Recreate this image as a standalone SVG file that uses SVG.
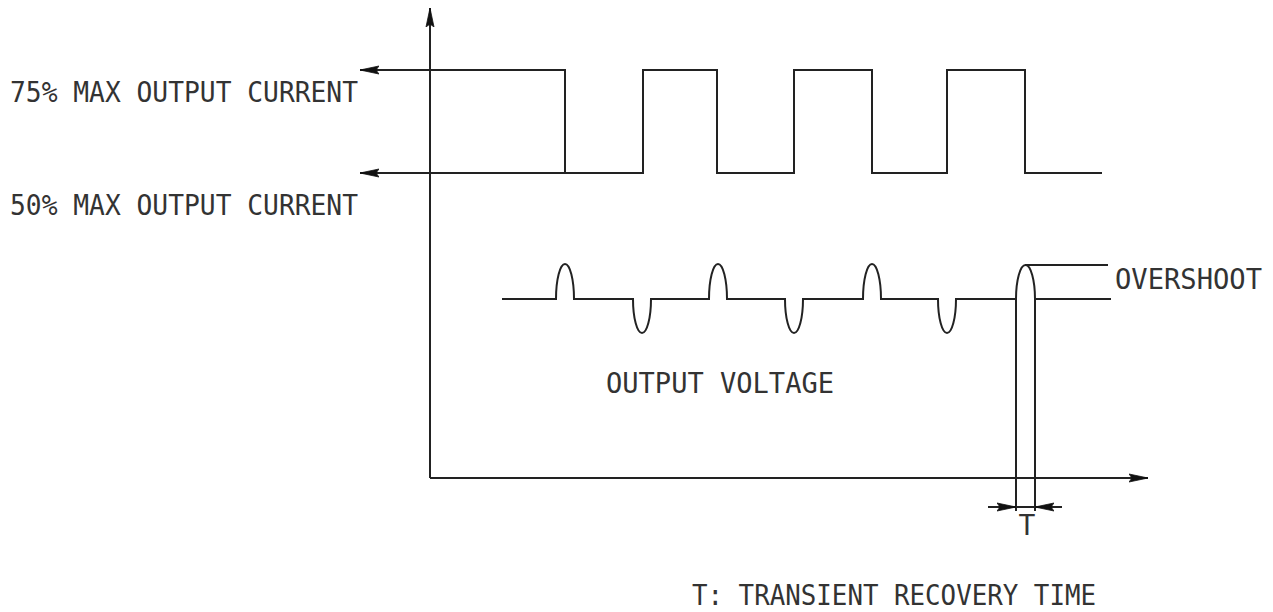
<svg xmlns="http://www.w3.org/2000/svg" width="1273" height="612" viewBox="0 0 1273 612">
<style>
.ln{fill:none;stroke:#222;stroke-width:2;stroke-linejoin:miter}
.tx{font-family:"DejaVu Sans Mono","Liberation Mono",monospace;font-size:28px;fill:#333}
</style>
<defs>
<marker id="ah" markerUnits="userSpaceOnUse" markerWidth="22" markerHeight="10" refX="19" refY="4.5" orient="auto" viewBox="0 0 22 9">
<path d="M0,0.5 L19,4.5 L0,8.5 L3,4.5 z" fill="#111" stroke="#111" stroke-width="0.8" stroke-linejoin="round"/>
</marker>
</defs>
<rect width="1273" height="612" fill="#fff"/>
<g id="connectors">
<g id="axes">
<path class="ln" d="M430,478 V8" marker-end="url(#ah)"/>
<path class="ln" d="M430,478 H1148" marker-end="url(#ah)"/>
</g>
<g id="current-waveform">
<path class="ln" d="M1102,173 H1025 V70 H947 V173 H872 V70 H794 V173 H717 V70 H643 V173 H565 V70 H360" marker-end="url(#ah)"/>
<path class="ln" d="M565,173 H360" marker-end="url(#ah)"/>
</g>
<g id="voltage-waveform">
<path class="ln" d="M502,299 H556 A9,35 0 0 1 574,299 H633 A9,34 0 0 0 651,299 H709 A9,35 0 0 1 727,299 H785 A9,34 0 0 0 803,299 H863 A9,35 0 0 1 881,299 H938 A9,34 0 0 0 956,299 H1016 A9.5,34 0 0 1 1035,299 H1111"/>
<path class="ln" d="M1025,265 H1108"/>
</g>
<g id="recovery-dimension">
<path class="ln" d="M1016,299 V511 M1035,299 V511 M1016,507 H1035"/>
<path class="ln" d="M988,507 H1016" marker-end="url(#ah)"/>
<path class="ln" d="M1062,507 H1035" marker-end="url(#ah)"/>
</g>
</g>
<g id="label-75">
<text class="tx" x="10" y="102" textLength="348" lengthAdjust="spacingAndGlyphs">75% MAX OUTPUT CURRENT</text>
</g>
<g id="label-50">
<text class="tx" x="10" y="215" textLength="348" lengthAdjust="spacingAndGlyphs">50% MAX OUTPUT CURRENT</text>
</g>
<g id="label-voltage">
<text class="tx" x="606" y="393" textLength="228" lengthAdjust="spacingAndGlyphs">OUTPUT VOLTAGE</text>
</g>
<g id="label-overshoot">
<text class="tx" x="1115" y="289" textLength="147" lengthAdjust="spacingAndGlyphs">OVERSHOOT</text>
</g>
<g id="label-t">
<text class="tx" x="1027" y="535" text-anchor="middle">T</text>
</g>
<g id="label-legend">
<text class="tx" x="692" y="605" textLength="404" lengthAdjust="spacingAndGlyphs">T: TRANSIENT RECOVERY TIME</text>
</g>
</svg>
